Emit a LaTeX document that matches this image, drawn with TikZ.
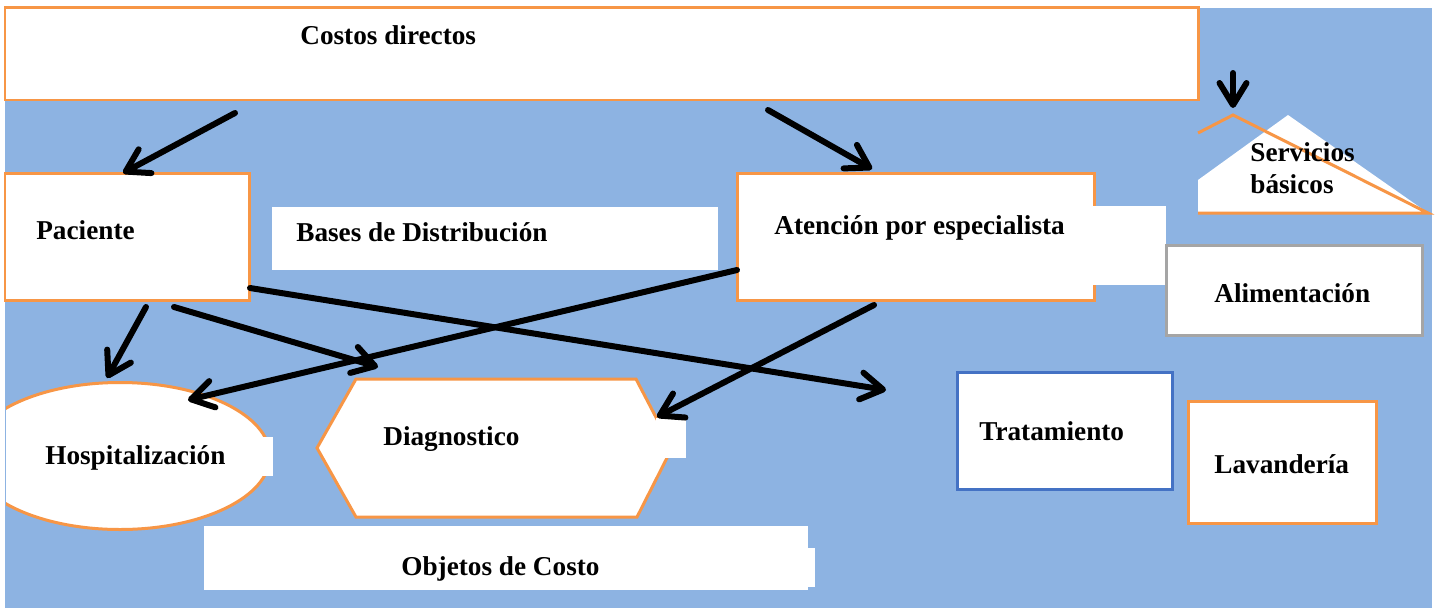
\documentclass[tikz,border=0pt]{standalone}
\usepackage{fontspec}
\setmainfont{Liberation Serif}
\usetikzlibrary{arrows.meta,shapes.geometric}
\definecolor{bgblue}{HTML}{8DB3E2}
\definecolor{orng}{HTML}{F79646}
\definecolor{grayb}{HTML}{A5A5A5}
\definecolor{blueb}{HTML}{4472C4}
\begin{document}
\begin{tikzpicture}[x=0.02cm,y=-0.02cm,
  bx/.style 2 args={minimum width=#1*0.02cm, minimum height=#2*0.02cm, inner sep=0pt},
  obox/.style={draw=orng, line width=0.06cm, fill=white},
  wpatch/.style={fill=white, draw=none},
  lbl/.style={font=\bfseries\fontsize{15.5}{18}\selectfont, inner sep=0pt, anchor=west, text height=10.3pt, text depth=0pt},
  arr/.style={line width=0.12cm, line cap=round, -{Straight Barb[length=0.44cm,width=0.54cm,line cap=round,line join=round]}}]
\useasboundingbox (0,0) rectangle (1435,608);
\fill[bgblue] (5,8) rectangle (1432,608);
% boxes
\node[obox, bx={1193}{92}] (costos) at (601.5,54) {};
\node[obox, bx={244}{127}] (paciente) at (127,236.5) {};
\node[wpatch, bx={446}{63}] (bases) at (495,238.5) {};
\node[obox, bx={357}{127}] (atencion) at (915.5,236.5) {};
\node[wpatch, bx={76}{79}] (atext) at (1128,245.5) {};
% servicios basicos
\fill[white] (1198,213) -- (1198,180) -- (1288,115) -- (1428,213) -- cycle;
\draw[orng, line width=0.06cm] (1198,133) -- (1233,115) -- (1428,213) -- (1198,213);
\node[draw=grayb, line width=0.06cm, fill=white, bx={256}{90}] (alim) at (1294,290) {};
\node[draw=blueb, line width=0.06cm, fill=white, bx={215}{117}] (trat) at (1064.5,430.5) {};
\node[obox, bx={188}{122}] (lav) at (1282,462) {};
% hospitalizacion
\begin{scope}
\clip (6,0) rectangle (1435,608);
\node[obox, ellipse, bx={300}{147}] (hosp) at (120,456) {};
\end{scope}
\node[wpatch, bx={43}{39}] (hpatch) at (251.5,456.5) {};
% diagnostico
\draw[orng, fill=white, line width=0.06cm] (317,448) -- (356,379) -- (636,379) -- (672,448) -- (637,517) -- (356,517) -- cycle;
\node[wpatch, bx={30}{40}] (dpatch) at (671,438) {};
% objetos de costo
\node[wpatch, bx={604}{64}] (objetos) at (506,558) {};
\node[wpatch, bx={15}{39}] (opatch) at (807.5,567.5) {};
% labels
\node[lbl] (tcostos) at (300,35) {Costos directos};
\node[lbl] (tpac) at (36,230) {Paciente};
\node[lbl] (tbases) at (296,232) {Bases de Distribución};
\node[lbl] (taten) at (774,225) {Atención por especialista};
\node[lbl] (tserv1) at (1250,152) {Servicios};
\node[lbl] (tserv2) at (1250,184) {básicos};
\node[lbl] (talim) at (1214,293) {Alimentación};
\node[lbl] (ttrat) at (979,431) {Tratamiento};
\node[lbl] (tlav) at (1214,464) {Lavandería};
\node[lbl] (thosp) at (45,455) {Hospitalización};
\node[lbl] (tdiag) at (383,436) {Diagnostico};
\node[lbl] (tobj) at (401,566) {Objetos de Costo};
% arrow end points
\coordinate (a1s) at (235,113); \coordinate (a1e) at (123,173);
\coordinate (a2s) at (768,110); \coordinate (a2e) at (872,169);
\coordinate (a3s) at (146,307); \coordinate (a3e) at (107,378);
\coordinate (a4s) at (174,307); \coordinate (a4e) at (378,367);
\coordinate (a5s) at (250,288); \coordinate (a5e) at (886,390);
\coordinate (a6s) at (737,270); \coordinate (a6e) at (188,400);
\coordinate (a7s) at (874,305); \coordinate (a7e) at (657,417);
\coordinate (a8s) at (1233,73); \coordinate (a8e) at (1233,108);
\draw[arr] (a1s) -- (a1e);
\draw[arr] (a2s) -- (a2e);
\draw[arr] (a3s) -- (a3e);
\draw[arr] (a4s) -- (a4e);
\draw[arr] (a5s) -- (a5e);
\draw[arr] (a6s) -- (a6e);
\draw[arr] (a7s) -- (a7e);
\draw[arr] (a8s) -- (a8e);
\end{tikzpicture}
\end{document}
